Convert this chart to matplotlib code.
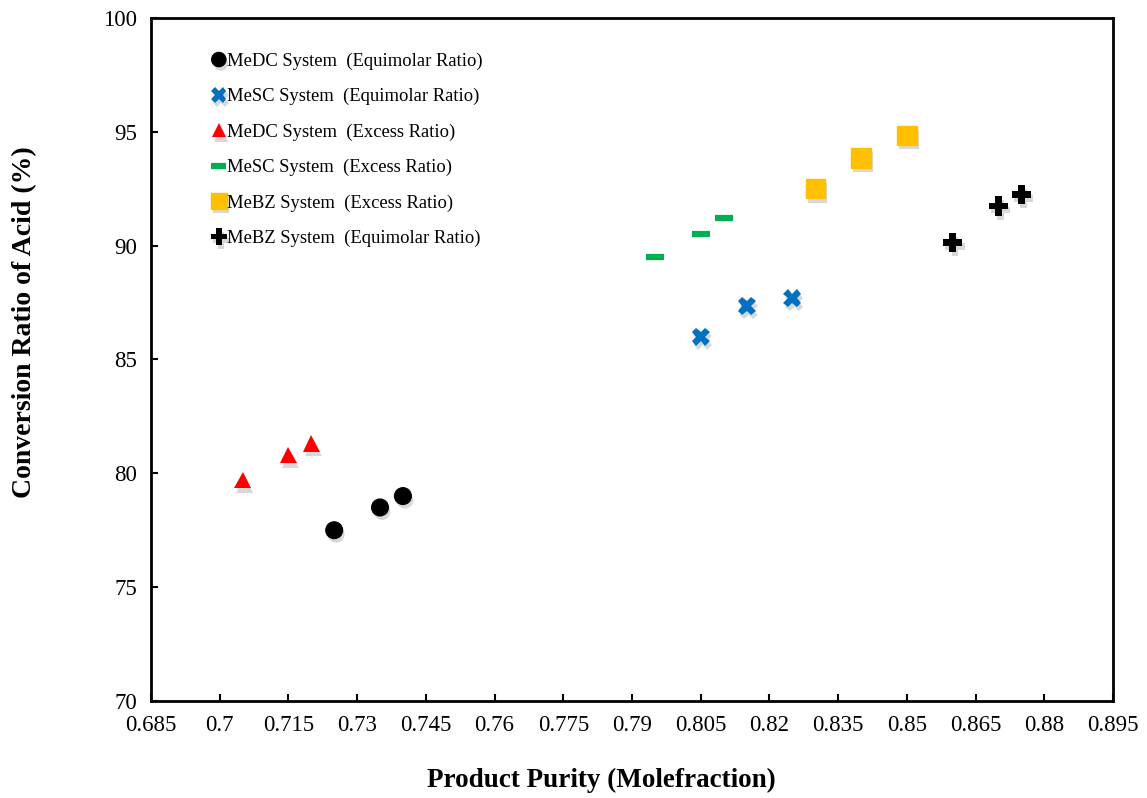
import matplotlib
matplotlib.use("Agg")
import matplotlib.pyplot as plt
import matplotlib.patheffects as pe
import numpy as np

plt.rcParams['font.family'] = ['Liberation Serif', 'DejaVu Serif']

medc_eq_x = [0.725, 0.735, 0.74]
medc_eq_y = [77.5, 78.5, 79.0]
mesc_eq_x = [0.805, 0.815, 0.825]
mesc_eq_y = [86.0, 87.35, 87.7]
medc_ex_x = [0.705, 0.715, 0.72]
medc_ex_y = [79.7, 80.8, 81.3]
mesc_ex_x = [0.795, 0.805, 0.81]
mesc_ex_y = [89.5, 90.5, 91.2]
mebz_ex_x = [0.83, 0.84, 0.85]
mebz_ex_y = [92.5, 93.85, 94.85]
mebz_eq_x = [0.86, 0.87, 0.875]
mebz_eq_y = [90.15, 91.75, 92.25]

labels = ["MeDC System  (Equimolar Ratio)",
          "MeSC System  (Equimolar Ratio)",
          "MeDC System  (Excess Ratio)",
          "MeSC System  (Excess Ratio)",
          "MeBZ System  (Excess Ratio)",
          "MeBZ System  (Equimolar Ratio)"]

xticks = [0.685, 0.7, 0.715, 0.73, 0.745, 0.76, 0.775, 0.79, 0.805, 0.82,
          0.835, 0.85, 0.865, 0.88, 0.895]
xticklabels = ["0.685", "0.7", "0.715", "0.73", "0.745", "0.76", "0.775", "0.79",
               "0.805", "0.82", "0.835", "0.85", "0.865", "0.88", "0.895"]
yticks = [70, 75, 80, 85, 90, 95, 100]

fig = plt.figure(figsize=(11.47, 7.98), dpi=100)
ax = fig.add_axes([0.1316, 0.1216, 0.8388, 0.8558])

shadow = [pe.SimplePatchShadow(offset=(1.5, -3), alpha=0.3, shadow_rgbFace='gray'), pe.Normal()]

def P(x, y, **kw):
    ln, = ax.plot(x, y, linestyle='none', **kw)
    ln.set_path_effects(shadow)
    return ln

P(medc_eq_x, medc_eq_y, marker='o', color='black', markersize=12, label=labels[0])
P(mesc_eq_x, mesc_eq_y, marker='X', color='#0070C0', markersize=13, markeredgewidth=0, label=labels[1])
P(medc_ex_x, medc_ex_y, marker='^', color='#FF0000', markersize=12, markeredgewidth=0, label=labels[2])
P(mesc_ex_x, mesc_ex_y, marker='_', color='#00B050', markersize=13, markeredgewidth=4.5, label=labels[3])
P(mebz_ex_x, mebz_ex_y, marker='s', color='#FFC000', markersize=14, markeredgewidth=1, markeredgecolor='#FFC000', label=labels[4])
P(mebz_eq_x, mebz_eq_y, marker='P', color='black', markersize=14, markeredgewidth=0, label=labels[5])

ax.set_xlim(0.685, 0.895)
ax.set_ylim(70, 100)
ax.set_xticks(xticks)
ax.set_xticklabels(xticklabels)
ax.set_yticks(yticks)
ax.tick_params(direction='in', length=5, width=1.5, labelsize=16.5)
ax.tick_params(axis='x', pad=10)
ax.tick_params(axis='y', pad=10)
for s in ax.spines.values():
    s.set_linewidth(2)

ax.set_xlabel("Product Purity (Molefraction)", fontsize=19.5, fontweight='bold')
ax.xaxis.set_label_coords(0.468, -0.098)
ax.set_ylabel("Conversion Ratio of Acid (%)", fontsize=20, fontweight='bold')
ax.yaxis.set_label_coords(-0.1186, 0.555)

leg = ax.legend(loc='upper left', bbox_to_anchor=(0.057, 0.96), frameon=False, fontsize=13.4,
                handlelength=0.6, handletextpad=0.15, labelspacing=0.97, markerscale=0.85,
                borderaxespad=0)

fig.savefig("out.png", dpi=100)
